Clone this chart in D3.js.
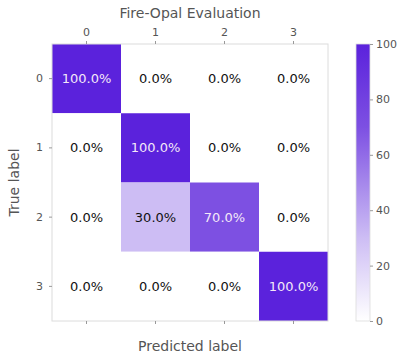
<!DOCTYPE html>
<html><head><meta charset="utf-8">
<script src="https://cdn.jsdelivr.net/npm/d3@7"></script>
<style>body{margin:0;background:#fff;} text{font-family:"DejaVu Sans",sans-serif;}</style>
</head><body>
<svg id="c" width="406" height="361"></svg>
<script>
const labels = ["0","1","2","3"];
const matrix = [
  [100, 0, 0, 0],
  [0, 100, 0, 0],
  [0, 30, 70, 0],
  [0, 0, 0, 100]
];
const cbTicks = [0,20,40,60,80,100];
const title = "Fire-Opal Evaluation";

const svg = d3.select("#c");
const L=52, R=328, T=44, B=321;
const x = d3.scaleBand().domain(labels).range([L,R]);
const y = d3.scaleBand().domain(labels).range([T,B]);
const color = d3.scaleLinear().domain([0,30,70,100]).range(["#ffffff","#cdbdf4","#7d50e2","#5b22dc"]);
const gray="#555";

const cells=[];
matrix.forEach((row,i)=>row.forEach((v,j)=>cells.push({i,j,v})));
svg.append("g").selectAll("rect").data(cells).join("rect")
  .attr("x",d=>x(labels[d.j])).attr("y",d=>y(labels[d.i]))
  .attr("width",x.bandwidth()).attr("height",y.bandwidth())
  .attr("fill",d=>color(d.v));
svg.append("rect").attr("x",L).attr("y",T).attr("width",R-L).attr("height",B-T)
  .attr("fill","none").attr("stroke","#dcdcdc").attr("stroke-width",1);
svg.append("g").selectAll("text").data(cells).join("text")
  .attr("x",d=>x(labels[d.j])+x.bandwidth()/2).attr("y",d=>y(labels[d.i])+y.bandwidth()/2)
  .attr("text-anchor","middle").attr("dominant-baseline","central")
  .attr("font-size",13).attr("fill",d=>d.v>50?"#f4e8f8":"#111")
  .text(d=>d.v.toFixed(1)+"%");

function styleAxis(g){
  g.select(".domain").remove();
  g.selectAll(".tick line").attr("stroke","#999");
  g.selectAll(".tick text").attr("fill",gray).attr("font-size",11).attr("font-family","DejaVu Sans");
}
svg.append("g").attr("transform",`translate(0,${T})`)
  .call(d3.axisTop(x).tickSize(3).tickPadding(5)).call(styleAxis);
svg.append("g").attr("transform",`translate(0,${B})`)
  .call(d3.axisBottom(x).tickSize(3).tickFormat("")).call(styleAxis);
svg.append("g").attr("transform",`translate(${L},0)`)
  .call(d3.axisLeft(y).tickSize(3).tickPadding(6)).call(styleAxis);

svg.append("text").attr("x",(L+R)/2).attr("y",18).attr("text-anchor","middle")
  .attr("font-size",14).attr("fill",gray).text(title);
svg.append("text").attr("x",(L+R)/2).attr("y",351).attr("text-anchor","middle")
  .attr("font-size",14).attr("fill",gray).text("Predicted label");
svg.append("text").attr("transform",`translate(19,${(T+B)/2}) rotate(-90)`).attr("text-anchor","middle")
  .attr("font-size",14).attr("fill",gray).text("True label");

// colorbar
const cbL=356, cbW=14;
const cy = d3.scaleLinear().domain([0,100]).range([B,T]);
const defs=svg.append("defs");
const grad=defs.append("linearGradient").attr("id","g").attr("x1",0).attr("y1",1).attr("x2",0).attr("y2",0);
d3.range(0,101,10).forEach(v=>grad.append("stop").attr("offset",v/100).attr("stop-color",color(v)));
svg.append("rect").attr("x",cbL).attr("y",T).attr("width",cbW).attr("height",B-T)
  .attr("fill","url(#g)").attr("stroke","#dcdcdc").attr("stroke-width",0.8);
svg.append("g").attr("transform",`translate(${cbL+cbW},0)`)
  .call(d3.axisRight(cy).tickValues(cbTicks).tickSize(3).tickPadding(3)).call(styleAxis);
</script>
</body></html>
